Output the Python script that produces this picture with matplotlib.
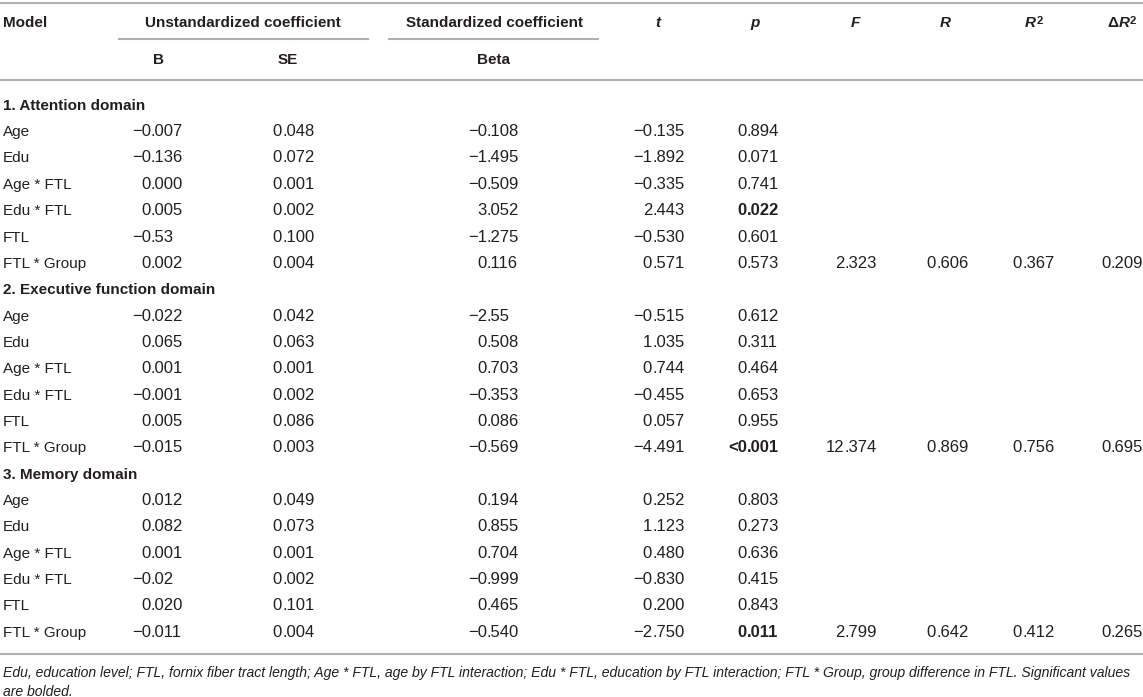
import matplotlib.pyplot as plt

plt.rcParams['font.family'] = ['Liberation Sans', 'DejaVu Sans']

# table content
sections = ['1. Attention domain', '2. Executive function domain', '3. Memory domain']
row_labels = ['Age', 'Edu', 'Age * FTL', 'Edu * FTL', 'FTL', 'FTL * Group']

b_vals = [['−0.007', '−0.136', '0.000', '0.005', '−0.53', '0.002'],
          ['−0.022', '0.065', '0.001', '−0.001', '0.005', '−0.015'],
          ['0.012', '0.082', '0.001', '−0.02', '0.020', '−0.011']]
se_vals = [['0.048', '0.072', '0.001', '0.002', '0.100', '0.004'],
           ['0.042', '0.063', '0.001', '0.002', '0.086', '0.003'],
           ['0.049', '0.073', '0.001', '0.002', '0.101', '0.004']]
beta_vals = [['−0.108', '−1.495', '−0.509', '3.052', '−1.275', '0.116'],
             ['−2.55', '0.508', '0.703', '−0.353', '0.086', '−0.569'],
             ['0.194', '0.855', '0.704', '−0.999', '0.465', '−0.540']]
t_vals = [['−0.135', '−1.892', '−0.335', '2.443', '−0.530', '0.571'],
          ['−0.515', '1.035', '0.744', '−0.455', '0.057', '−4.491'],
          ['0.252', '1.123', '0.480', '−0.830', '0.200', '−2.750']]
p_vals = [['0.894', '0.071', '0.741', '0.022', '0.601', '0.573'],
          ['0.612', '0.311', '0.464', '0.653', '0.955', '<0.001'],
          ['0.803', '0.273', '0.636', '0.415', '0.843', '0.011']]
p_bold = [[False, False, False, True, False, False],
          [False, False, False, False, False, True],
          [False, False, False, False, False, True]]
f_vals = ['2.323', '12.374', '2.799']
r_vals = ['0.606', '0.869', '0.642']
r2_vals = ['0.367', '0.756', '0.412']
dr2_vals = ['0.209', '0.695', '0.265']

footnote = ['Edu, education level; FTL, fornix fiber tract length; Age * FTL, age by FTL interaction; '
            'Edu * FTL, education by FTL interaction; FTL * Group, group difference in FTL. Significant values',
            'are bolded.']

W, H = 1143, 697
fig = plt.figure(figsize=(W / 100, H / 100), dpi=100)
ax = fig.add_axes([0, 0, 1, 1])
ax.set_xlim(0, W)
ax.set_ylim(H, 0)
ax.axis('off')

txt = '#231f20'
line_c = '#b0b0b0'
fs = 11
fs_num = 12
fs_note = 10.1
base_off = 5.8  # row centre -> text baseline

# decimal anchors of the columns
dec_x = [151, 282, 487, 652, 747, 844, 936, 1022, 1111]


def dec_text(x, y, s, bold=False):
    w = 'bold' if bold else 'normal'
    if '.' in s:
        left, right = s.split('.', 1)
        right = '.' + right
    else:
        left, right = s, ''
    ax.text(x, y + base_off, left, ha='right', va='baseline', fontsize=fs_num, color=txt, fontweight=w)
    ax.text(x, y + base_off, right, ha='left', va='baseline', fontsize=fs_num, color=txt, fontweight=w)


# rules
ax.plot([0, W], [3, 3], color=line_c, lw=1.5)
ax.plot([119, 368], [39, 39], color=line_c, lw=1.5)
ax.plot([389, 598], [39, 39], color=line_c, lw=1.5)
ax.plot([0, W], [80, 80], color=line_c, lw=1.5)
ax.plot([0, W], [654, 654], color=line_c, lw=1.5)

# header
hy1, hy2 = 23, 60
ax.text(3, hy1, 'Model', ha='left', va='center', fontsize=fs, fontweight='bold', color=txt)
ax.text(243, hy1, 'Unstandardized coefficient', ha='center', va='center', fontsize=fs, fontweight='bold', color=txt)
ax.text(494, hy1, 'Standardized coefficient', ha='center', va='center', fontsize=fs, fontweight='bold', color=txt)
for x, s in [(158, 'B'), (288, 'SE'), (494, 'Beta')]:
    ax.text(x, hy2, s, ha='center', va='center', fontsize=fs, fontweight='bold', color=txt)
for x, s in [(658, 't'), (755, 'p'), (855, 'F'), (945, 'R')]:
    ax.text(x, hy1, s, ha='center', va='center', fontsize=fs, fontweight='bold', style='italic', color=txt)

fig.canvas.draw()
rend = fig.canvas.get_renderer()
inv = ax.transData.inverted()


def sup_after(t_obj):
    bb = t_obj.get_window_extent(renderer=rend)
    x_end = inv.transform((bb.x1, bb.y1))
    ax.text(x_end[0] + 0.5, x_end[1], '2', ha='left', va='top', fontsize=fs * 0.75,
            fontweight='bold', color=txt)


r2 = ax.text(1025, hy1, 'R', ha='left', va='center', fontsize=fs, fontweight='bold', style='italic', color=txt)
sup_after(r2)
dl = ax.text(1107, hy1, 'Δ', ha='left', va='center', fontsize=fs, fontweight='bold', color=txt)
bb = dl.get_window_extent(renderer=rend)
xr = inv.transform((bb.x1, bb.y0))[0]
dr = ax.text(xr + 0.5, hy1, 'R', ha='left', va='center', fontsize=fs, fontweight='bold', style='italic', color=txt)
sup_after(dr)

# body
y0, dy = 104, 26.35
row = 0
for si, sec in enumerate(sections):
    y = y0 + row * dy
    ax.text(3, y + base_off, sec, ha='left', va='baseline', fontsize=fs, fontweight='bold', color=txt)
    row += 1
    for ri, lab in enumerate(row_labels):
        y = y0 + row * dy
        ax.text(3, y + base_off, lab, ha='left', va='baseline', fontsize=fs, color=txt)
        dec_text(dec_x[0], y, b_vals[si][ri])
        dec_text(dec_x[1], y, se_vals[si][ri])
        dec_text(dec_x[2], y, beta_vals[si][ri])
        dec_text(dec_x[3], y, t_vals[si][ri])
        dec_text(dec_x[4], y, p_vals[si][ri], bold=p_bold[si][ri])
        if ri == len(row_labels) - 1:
            dec_text(dec_x[5], y, f_vals[si])
            dec_text(dec_x[6], y, r_vals[si])
            dec_text(dec_x[7], y, r2_vals[si])
            dec_text(dec_x[8], y, dr2_vals[si])
        row += 1

# footnote
ax.text(3, 673, footnote[0], ha='left', va='center', fontsize=fs_note, style='italic', color=txt)
ax.text(3, 692, footnote[1], ha='left', va='center', fontsize=fs_note, style='italic', color=txt)

fig.savefig('out.png', dpi=100)
